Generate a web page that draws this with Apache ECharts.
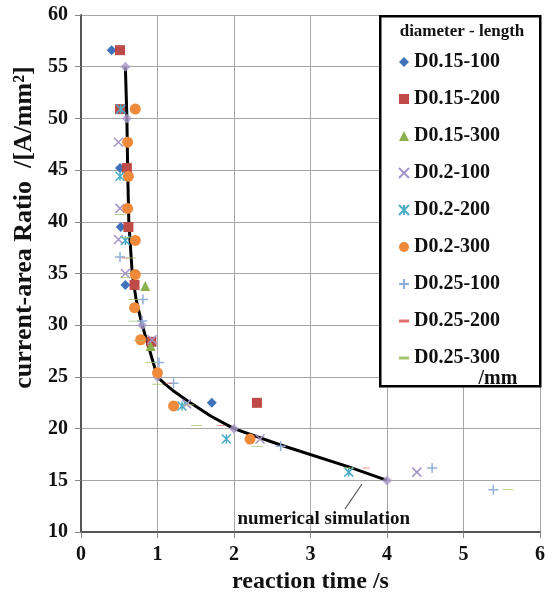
<!DOCTYPE html>
<html>
<head>
<meta charset="utf-8">
<script src="https://cdn.jsdelivr.net/npm/echarts@6/dist/echarts.min.js"></script>
<style>
  html, body { margin: 0; padding: 0; background: #fff; }
  #chart { width: 553px; height: 599px; }
</style>
</head>
<body>
<div id="chart"></div>
<script>
// measured points [reaction time s, current-area ratio A/mm2]
const d015_100 = [[0.40, 56.6], [0.51, 45.2], [0.52, 39.5], [0.58, 33.9], [1.71, 22.5]]
const d015_200 = [[0.51, 56.6], [0.51, 50.9], [0.60, 45.2], [0.62, 39.5], [0.70, 33.9], [0.92, 28.4], [2.30, 22.5]]
const d015_300 = [[0.84, 33.8], [0.91, 28.0]]
const d02_100 = [[0.49, 47.7], [0.51, 41.3], [0.49, 38.3], [0.58, 35.0], [0.93, 28.6], [1.38, 22.4], [2.34, 19.0], [4.39, 15.8]]
const d02_200 = [[0.52, 50.9], [0.51, 44.4], [0.58, 38.2], [1.32, 22.2], [1.90, 19.0], [3.50, 15.8]]
const d02_300 = [[0.71, 50.9], [0.61, 47.7], [0.62, 44.4], [0.61, 41.3], [0.71, 38.2], [0.71, 34.9], [0.70, 31.7], [0.78, 28.6], [1.00, 25.4], [1.21, 22.2], [2.21, 19.0]]
const d025_100 = [[0.51, 36.6], [0.81, 32.5], [0.80, 30.4], [1.02, 26.4], [1.21, 24.4], [2.61, 18.3], [4.59, 16.2], [5.39, 14.1]]
const d025_200 = [[0.58, 36.5], [1.15, 24.4], [1.83, 20.3], [3.73, 16.2]]
const d025_300 = [[0.51, 40.7], [0.60, 38.5], [0.65, 36.5], [0.58, 34.6], [0.69, 32.5], [0.69, 30.4], [0.76, 28.5], [0.91, 26.4], [1.00, 24.3], [1.41, 22.3], [1.51, 20.3], [2.30, 18.3], [3.50, 16.2], [5.58, 14.1]]

// numerical simulation curve and its markers
const simLine = [[0.58, 55], [0.60, 50], [0.61, 45], [0.625, 40], [0.67, 35], [0.72, 32.5], [0.80, 30], [0.88, 28], [1.00, 25],
  [1.10, 24.3], [1.20, 23.7], [1.45, 22.4], [1.70, 21.2], [2.00, 20], [2.60, 18.45], [3.50, 16.3], [4.00, 15]]
const simMarks = [[0.58, 55], [0.60, 50], [0.80, 30], [1.00, 25], [2.00, 20], [4.00, 15]]

const xTicks = [0, 1, 2, 3, 4, 5, 6]
const yTicks = [10, 15, 20, 25, 30, 35, 40, 45, 50, 55, 60]

const SERIF = "'Liberation Serif', 'Times New Roman', serif"
const DASH = 'path://M0,0L10,0L10,3L0,3Z'
const CROSS = 'path://M0,0L10,10M10,0L0,10'
const PLUS = 'path://M5,0L5,10M0,5L10,5'
const STAR = 'path://M0,0L10,10M10,0L0,10M5,0L5,10'

const groups = [
  { name: 'D0.15-100', data: d015_100, symbol: 'diamond', size: 10, color: '#3F72B8' },
  { name: 'D0.15-200', data: d015_200, symbol: 'rect', size: 10, color: '#BE4B48' },
  { name: 'D0.15-300', data: d015_300, symbol: 'triangle', size: 10, color: '#8DB04E' },
  { name: 'D0.2-100', data: d02_100, symbol: CROSS, size: 9, color: '#A594C8', stroke: 1.5 },
  { name: 'D0.2-200', data: d02_200, symbol: STAR, size: 9, color: '#4BACC6', stroke: 1.5 },
  { name: 'D0.2-300', data: d02_300, symbol: 'circle', size: 11, color: '#EF8A3A' },
  { name: 'D0.25-100', data: d025_100, symbol: PLUS, size: 10, color: '#94AEDC', stroke: 1.5 },
  { name: 'D0.25-200', data: d025_200, symbol: DASH, size: [7, 2.5], color: '#E0706C' },
  { name: 'D0.25-300', data: d025_300, symbol: DASH, size: [11, 2.5], color: '#A3C46A' },
]

const chart = echarts.init(document.getElementById('chart'))

const series = [
  {
    type: 'line',
    name: 'numerical simulation',
    data: simLine,
    showSymbol: false,
    smooth: false,
    lineStyle: { color: '#000', width: 3, join: 'round' },
    z: 3,
  },
  {
    type: 'scatter',
    name: 'sim',
    data: simMarks,
    symbol: 'diamond',
    symbolSize: 10,
    itemStyle: { color: '#A99ACB' },
    z: 4,
  },
  ...groups.map(g => ({
    type: 'scatter',
    name: g.name,
    data: g.data,
    symbol: g.symbol,
    symbolSize: g.size,
    symbolKeepAspect: true,
    itemStyle: { color: g.color, borderColor: g.color, borderWidth: g.stroke || 0, opacity: 1 },
    z: 5,
  })),
]

chart.setOption({
  animation: false,
  backgroundColor: '#fff',
  grid: { left: 81, right: 13, top: 15, bottom: 61 },
  xAxis: {
    type: 'value', min: xTicks[0], max: xTicks[xTicks.length - 1], interval: 1,
    name: 'reaction time /s', nameLocation: 'middle', nameGap: 37,
    nameTextStyle: { fontFamily: SERIF, fontWeight: 'bold', fontSize: 24, color: '#111' },
    axisLine: { lineStyle: { color: '#555', width: 2 } },
    axisTick: { show: true, length: 6, lineStyle: { color: '#888' } },
    axisLabel: { margin: 13, fontFamily: SERIF, fontWeight: 'bold', fontSize: 20, color: '#111' },
    splitLine: { lineStyle: { color: '#A6A6A6', width: 1 } },
  },
  yAxis: {
    type: 'value', min: yTicks[0], max: yTicks[yTicks.length - 1], interval: 5,
    name: 'current-area Ratio  /[A/mm²]', nameLocation: 'middle', nameGap: 37,
    nameTextStyle: { fontFamily: SERIF, fontWeight: 'bold', fontSize: 26, color: '#111', padding: [0, 0, 0, 92] },
    axisLine: { lineStyle: { color: '#555', width: 2 } },
    axisTick: { show: true, length: 6, lineStyle: { color: '#888' } },
    axisLabel: { margin: 13, fontFamily: SERIF, fontWeight: 'bold', fontSize: 20, color: '#111' },
    splitLine: { lineStyle: { color: '#A6A6A6', width: 1 } },
  },
  legend: {
    orient: 'vertical', left: 393, top: 46,
    itemWidth: 10, itemHeight: 10, itemGap: 15,
    selectedMode: false,
    data: groups.map(g => g.name),
    textStyle: { fontFamily: SERIF, fontWeight: 'bold', fontSize: 20, lineHeight: 22, color: '#111' },
    z: 7,
  },
  graphic: [
    { type: 'rect', left: 379, top: 15, z: 6, shape: { width: 160, height: 370 }, style: { fill: '#fff', stroke: '#000', lineWidth: 2.5 } },
    { type: 'text', x: 462, y: 32, z: 7, style: { text: 'diameter - length', align: 'center', verticalAlign: 'middle', font: 'bold 17px ' + SERIF, fill: '#111' } },
    { type: 'text', x: 498, y: 379, z: 7, style: { text: '/mm', align: 'center', verticalAlign: 'middle', font: 'bold 20px ' + SERIF, fill: '#111' } },
    { type: 'text', x: 410, y: 519, z: 7, style: { text: 'numerical simulation', align: 'right', verticalAlign: 'middle', font: 'bold 19px ' + SERIF, fill: '#111' } },
    { type: 'line', z: 7, shape: { x1: 345, y1: 509, x2: 362, y2: 484 }, style: { stroke: '#555', lineWidth: 1.2 } },
  ],
  series,
})
</script>
</body>
</html>
